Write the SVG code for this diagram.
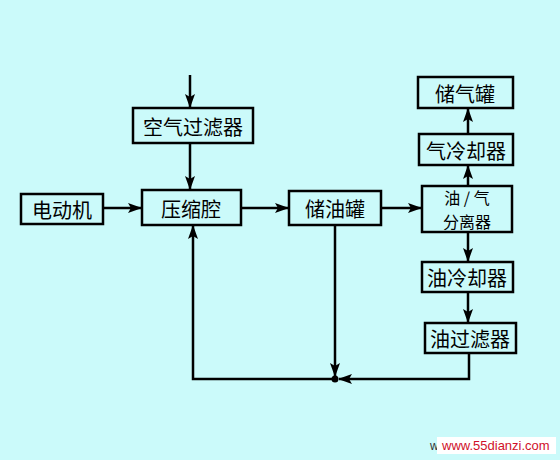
<svg xmlns="http://www.w3.org/2000/svg" width="560" height="460" viewBox="0 0 560 460">
<style>
.box{fill:#cbfafa;stroke:#000;stroke-width:2.5}
.t{font-family:"Noto Sans CJK SC",sans-serif;font-size:20px;fill:#000;text-anchor:middle;dominant-baseline:central}
.s{font-size:16px}
.c{fill:none;stroke:#000;stroke-width:2.5}
</style>
<defs>
<marker id="a" viewBox="0 0 14 10" refX="13" refY="5" markerWidth="14" markerHeight="10" markerUnits="userSpaceOnUse" orient="auto">
<path d="M0,0 L14,5 L0,10 L3,5 Z" fill="#000"/>
</marker>
</defs>
<rect width="560" height="460" fill="#cbfafa"/>
<g id="connectors">
<line class="c" x1="190" y1="75" x2="190" y2="107" marker-end="url(#a)"/>
<line class="c" x1="190" y1="143" x2="190" y2="189" marker-end="url(#a)"/>
<line class="c" x1="103" y1="208" x2="141" y2="208" marker-end="url(#a)"/>
<line class="c" x1="241" y1="208" x2="288" y2="208" marker-end="url(#a)"/>
<line class="c" x1="381" y1="208" x2="421" y2="208" marker-end="url(#a)"/>
<line class="c" x1="468" y1="186" x2="468" y2="166" marker-end="url(#a)"/>
<line class="c" x1="468" y1="134" x2="468" y2="109" marker-end="url(#a)"/>
<line class="c" x1="468" y1="232" x2="468" y2="261" marker-end="url(#a)"/>
<line class="c" x1="468" y1="292" x2="468" y2="322" marker-end="url(#a)"/>
<line class="c" x1="335" y1="225" x2="335" y2="376" marker-end="url(#a)"/>
<polyline class="c" points="469,353 469,379 339,379" marker-end="url(#a)"/>
<polyline class="c" points="335,379 193,379 193,226" marker-end="url(#a)"/>
<circle cx="335" cy="379" r="3.5" fill="#000"/>
</g>
<g id="air_filter"><rect class="box" x="133" y="108" width="120" height="35"/><text class="t" x="193" y="126">空气过滤器</text></g>
<g id="motor"><rect class="box" x="21" y="194" width="82" height="30"/><text class="t" x="62" y="209">电动机</text></g>
<g id="compressor"><rect class="box" x="142" y="190" width="99" height="35"/><text class="t" x="191" y="208">压缩腔</text></g>
<g id="oil_tank"><rect class="box" x="289" y="191" width="92" height="34"/><text class="t" x="335" y="208">储油罐</text></g>
<g id="separator"><rect class="box" x="422" y="186" width="90" height="46"/><text class="t s" x="467" y="197">油 / 气</text><text class="t s" x="467" y="221">分离器</text></g>
<g id="air_cooler"><rect class="box" x="419" y="134" width="94" height="31"/><text class="t" x="466" y="150">气冷却器</text></g>
<g id="air_tank"><rect class="box" x="418" y="77" width="95" height="31"/><text class="t" x="465" y="93">储气罐</text></g>
<g id="oil_cooler"><rect class="box" x="422" y="262" width="91" height="30"/><text class="t" x="467" y="277">油冷却器</text></g>
<g id="oil_filter"><rect class="box" x="425" y="323" width="91" height="30"/><text class="t" x="470" y="338">油过滤器</text></g>
<g id="watermark">
<text x="430" y="450" font-family="Liberation Sans,sans-serif" font-size="12" fill="#333">w</text>
<rect x="437" y="437" width="119" height="17" fill="#fff"/>
<text x="442" y="450" font-family="Liberation Sans,sans-serif" font-size="13" fill="#d0102a">www.55dianzi.com</text>
</g>
</svg>
